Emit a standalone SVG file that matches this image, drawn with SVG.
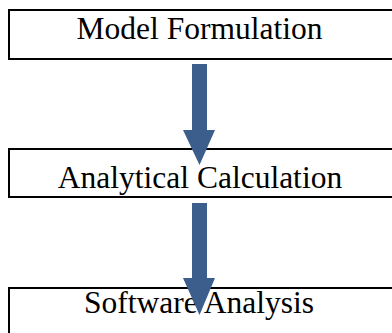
<svg xmlns="http://www.w3.org/2000/svg" width="392" height="333" viewBox="0 0 392 333">
<style>
.box{fill:#fff;stroke:#000;stroke-width:2}
.lbl{font-family:"Liberation Serif","Times New Roman",serif;font-size:31.5px;fill:#000;text-anchor:middle}
.arr{fill:#3B5E8C}
</style>
<rect width="392" height="333" fill="#fff"/>
<g id="model-formulation">
<rect class="box" x="9" y="10" width="400" height="49"/>
<text class="lbl" x="199.5" y="39">Model Formulation</text>
</g>
<g id="analytical-calculation">
<rect class="box" x="9" y="149" width="400" height="48"/>
<text class="lbl" x="200" y="188">Analytical Calculation</text>
</g>
<g id="software-analysis">
<rect class="box" x="9" y="288" width="400" height="60"/>
<text class="lbl" x="199" y="313">Software Analysis</text>
</g>
<g id="connectors">
<path class="arr" d="M192 64 H207 V130 H215 L199.5 165 L183 130 H192 Z"/>
<path class="arr" d="M192 203 H207 V278 H215 L199.5 315 L183 278 H192 Z"/>
</g>
</svg>
